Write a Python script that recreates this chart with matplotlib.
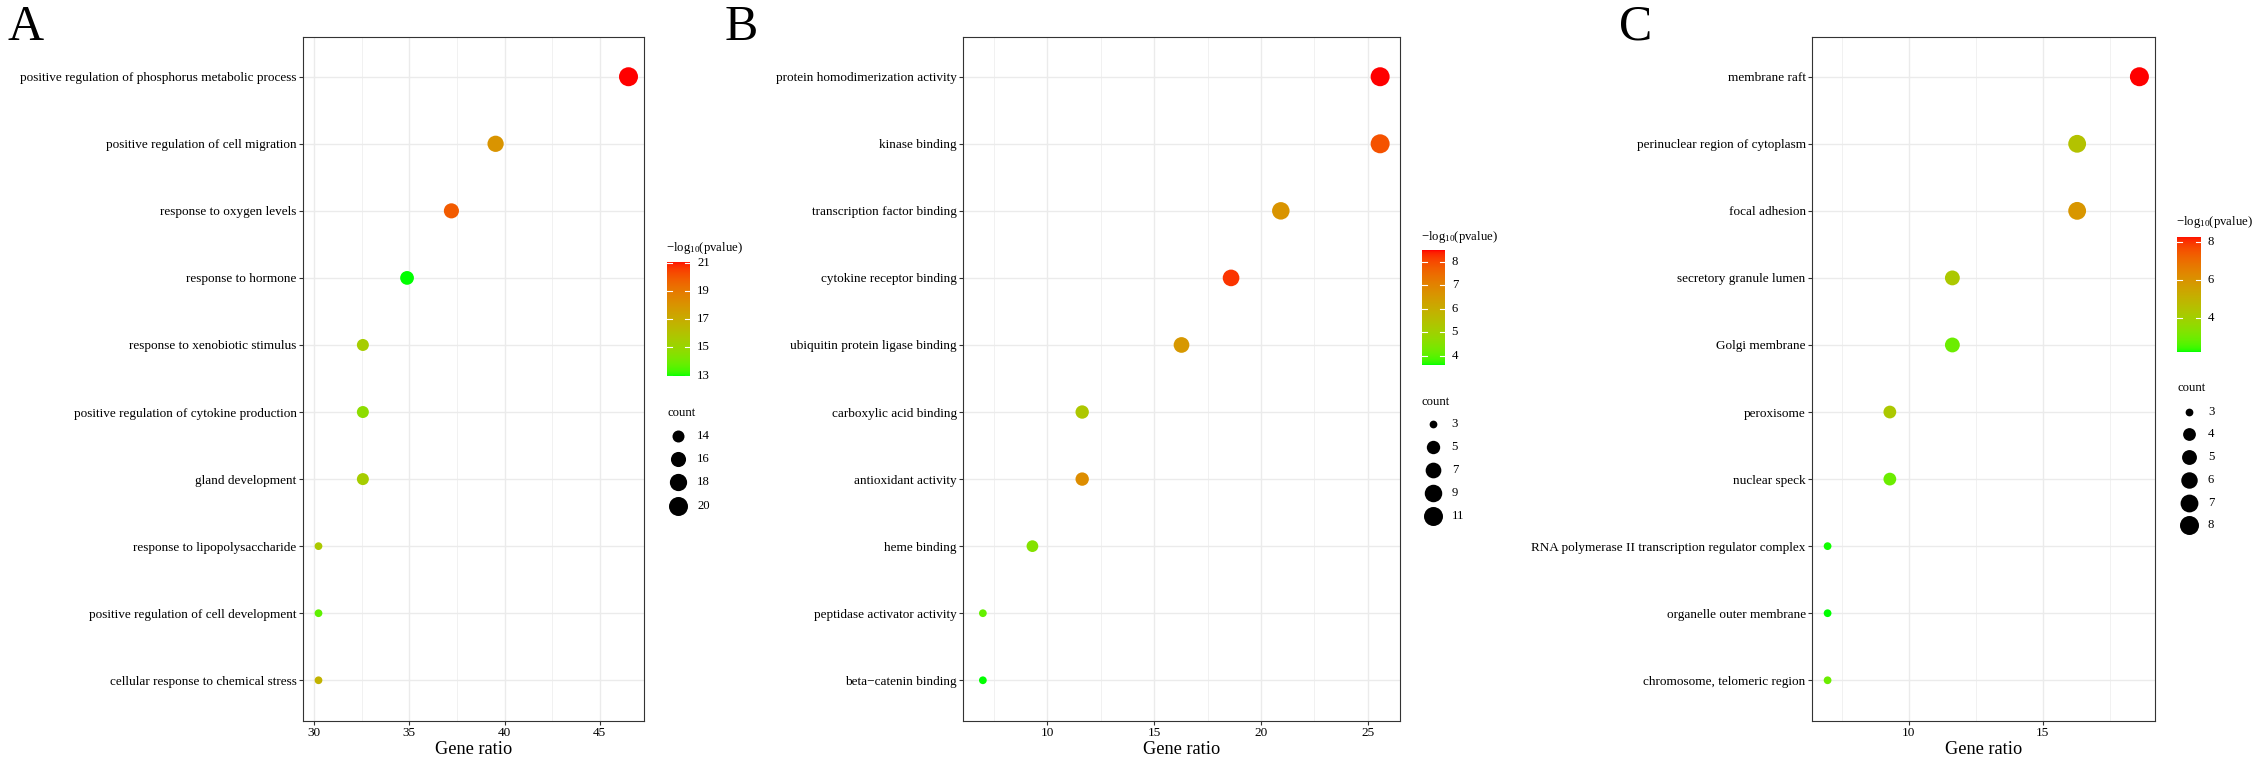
import numpy as np
import matplotlib
matplotlib.use('Agg')
import matplotlib.pyplot as plt
from matplotlib.colors import ListedColormap

plt.rcParams['font.family'] = ['Liberation Serif', 'DejaVu Serif']
plt.rcParams['mathtext.fontset'] = 'custom'
plt.rcParams['mathtext.rm'] = 'Liberation Serif'
plt.rcParams['mathtext.it'] = 'Liberation Serif:italic'

# ---------------- data ----------------
a_terms = ["positive regulation of phosphorus metabolic process",
           "positive regulation of cell migration",
           "response to oxygen levels",
           "response to hormone",
           "response to xenobiotic stimulus",
           "positive regulation of cytokine production",
           "gland development",
           "response to lipopolysaccharide",
           "positive regulation of cell development",
           "cellular response to chemical stress"]
a_ratio = [46.51, 39.53, 37.21, 34.88, 32.56, 32.56, 32.56, 30.23, 30.23, 30.23]
a_count = [20, 17, 16, 15, 14, 14, 14, 13, 13, 13]
a_logp = [21.08, 18.0, 19.85, 12.98, 15.5, 14.7, 15.5, 15.7, 13.7, 16.7]
a_xticks = [30, 35, 40, 45]
a_cticks = [13, 15, 17, 19, 21]
a_sticks = [14, 16, 18, 20]

b_terms = ["protein homodimerization activity",
           "kinase binding",
           "transcription factor binding",
           "cytokine receptor binding",
           "ubiquitin protein ligase binding",
           "carboxylic acid binding",
           "antioxidant activity",
           "heme binding",
           "peptidase activator activity",
           "beta\u2212catenin binding"]
b_ratio = [25.58, 25.58, 20.93, 18.60, 16.28, 11.63, 11.63, 9.30, 6.98, 6.98]
b_count = [11, 11, 9, 8, 7, 5, 5, 4, 3, 3]
b_logp = [8.5, 7.9, 6.65, 8.25, 6.55, 5.3, 6.8, 4.5, 4.1, 3.62]
b_xticks = [10, 15, 20, 25]
b_cticks = [4, 5, 6, 7, 8]
b_sticks = [3, 5, 7, 9, 11]

c_terms = ["membrane raft",
           "perinuclear region of cytoplasm",
           "focal adhesion",
           "secretory granule lumen",
           "Golgi membrane",
           "peroxisome",
           "nuclear speck",
           "RNA polymerase II transcription regulator complex",
           "organelle outer membrane",
           "chromosome, telomeric region"]
c_ratio = [18.60, 16.28, 16.28, 11.63, 11.63, 9.30, 9.30, 6.98, 6.98, 6.98]
c_count = [8, 7, 7, 5, 5, 4, 4, 3, 3, 3]
c_logp = [8.27, 4.5, 5.9, 4.3, 2.95, 4.3, 2.95, 2.3, 2.26, 2.95]
c_xticks = [10, 15]
c_cticks = [4, 6, 8]
c_sticks = [3, 4, 5, 6, 7, 8]

# ---------------- colour gradient (Lab interpolation green -> red) ----------------
M = np.array([[0.4124564, 0.3575761, 0.1804375],
              [0.2126729, 0.7151522, 0.0721750],
              [0.0193339, 0.1191920, 0.9503041]])
WHITE = M @ np.ones(3)

def _f(t):
    d = 6 / 29
    return np.where(t > d ** 3, np.cbrt(t), t / (3 * d * d) + 4 / 29)

def _finv(t):
    d = 6 / 29
    return np.where(t > d, t ** 3, 3 * d * d * (t - 4 / 29))

def rgb2lab(rgb):
    rgb = np.asarray(rgb, float)
    lin = np.where(rgb <= 0.04045, rgb / 12.92, ((rgb + 0.055) / 1.055) ** 2.4)
    xyz = (M @ lin) / WHITE
    fx, fy, fz = _f(xyz)
    return np.array([116 * fy - 16, 500 * (fx - fy), 200 * (fy - fz)])

def lab2rgb(lab):
    L, a, b = lab
    fy = (L + 16) / 116
    fx = fy + a / 500
    fz = fy - b / 200
    xyz = np.array([_finv(fx), _finv(fy), _finv(fz)]) * WHITE
    lin = np.linalg.solve(M, xyz)
    lin = np.clip(lin, 0, 1)
    rgb = np.where(lin <= 0.0031308, 12.92 * lin, 1.055 * lin ** (1 / 2.4) - 0.055)
    return np.clip(rgb, 0, 1)

lo, hi = rgb2lab([0, 1, 0]), rgb2lab([1, 0, 0])
cmap = ListedColormap([lab2rgb(lo + (hi - lo) * t) for t in np.linspace(0, 1, 256)])

W, H = 2261, 761
fig = plt.figure(figsize=(W / 100, H / 100), dpi=100)

def rect(x0, y0, x1, y1):
    return [x0 / W, 1 - y1 / H, (x1 - x0) / W, (y1 - y0) / H]

def diam(c, cmin, cmax):
    size = 1 + 5 * np.sqrt((np.asarray(c, float) - cmin) / (cmax - cmin))
    return 5.5 + 2.25 * size

def s_of(d):
    return (d * 0.72) ** 2

TOP, BOT = 36.5, 720.5
TICK_FS = 9.5
LEG_FS = 9.2
overlay = fig.add_axes([0, 0, 1, 1], zorder=10)
overlay.set_xlim(0, W)
overlay.set_ylim(H, 0)
overlay.axis('off')
overlay.patch.set_alpha(0)

def panel(x0, x1, terms, ratio, count, logp, xticks, cticks, sticks, leg):
    ax = fig.add_axes(rect(x0, TOP, x1, BOT))
    n = len(terms)
    y = np.arange(n, 0, -1)
    vmin, vmax = min(logp), max(logp)
    cols = cmap((np.array(logp) - vmin) / (vmax - vmin))
    cmin, cmax = min(count), max(count)
    ax.scatter(ratio, y, s=s_of(diam(count, cmin, cmax)), c=cols,
               linewidths=0, zorder=3)
    rmin, rmax = min(ratio), max(ratio)
    pad = 0.05 * (rmax - rmin)
    ax.set_xticks(xticks)
    ax.set_xticklabels([str(v) for v in xticks])
    minors = [v + 2.5 for v in [xticks[0] - 5] + xticks]
    ax.set_xticks(minors, minor=True)
    ax.set_yticks(y)
    ax.set_yticklabels(terms)
    ax.set_xlim(rmin - pad, rmax + pad)
    ax.set_ylim(0.4, n + 0.6)
    ax.grid(which='major', color='#EBEBEB', lw=1.0)
    ax.grid(which='minor', axis='x', color='#EBEBEB', lw=0.5)
    ax.set_axisbelow(True)
    ax.tick_params(which='major', length=2.75, width=0.8, color='#333333',
                   labelsize=TICK_FS, labelcolor='black', pad=1.8)
    ax.tick_params(which='minor', length=0)
    for sp in ax.spines.values():
        sp.set_color('#333333')
        sp.set_linewidth(0.8)
    ax.set_xlabel('Gene ratio', fontsize=13.2, labelpad=1.5)

    # colour bar legend
    bx0, bx1, by0, by1, ty, sty, sy0, sdy, dx, lx = leg
    overlay.text(bx0 - 1, ty, r'$\mathregular{-log_{10}(pvalue)}$', fontsize=LEG_FS,
                 ha='left', va='center')
    cax = fig.add_axes(rect(bx0, by0, bx1, by1), zorder=5)
    cax.imshow(np.linspace(0, 1, 256)[:, None], aspect='auto', cmap=cmap,
               origin='lower', extent=[0, 1, vmin, vmax])
    cax.set_xlim(0, 1)
    cax.set_ylim(vmin, vmax)
    cax.axis('off')
    for v in cticks:
        cax.plot([0, 0.2], [v, v], color='white', lw=0.8)
        cax.plot([0.8, 1], [v, v], color='white', lw=0.8)
        yy = by1 - (v - vmin) / (vmax - vmin) * (by1 - by0)
        overlay.text(lx, yy, str(v), fontsize=LEG_FS, ha='left', va='center')
    # size legend
    overlay.text(bx0, sty, 'count', fontsize=LEG_FS, ha='left', va='center')
    for i, v in enumerate(sticks):
        yy = sy0 + i * sdy
        overlay.scatter([dx], [yy], s=s_of(diam(v, cmin, cmax)), c='black',
                        linewidths=0)
        overlay.text(lx, yy, str(v), fontsize=LEG_FS, ha='left', va='center')
    return ax

panel(303, 644, a_terms, a_ratio, a_count, a_logp, a_xticks, a_cticks, a_sticks,
      (667, 690, 261.7, 376, 247.5, 412.5, 436, 23.2, 678, 697))
panel(963, 1400, b_terms, b_ratio, b_count, b_logp, b_xticks, b_cticks, b_sticks,
      (1422, 1445, 250, 365, 236.7, 401.7, 424.3, 22.9, 1433.3, 1451.7))
panel(1812, 2155, c_terms, c_ratio, c_count, c_logp, c_xticks, c_cticks, c_sticks,
      (2177, 2200.7, 236.5, 351.7, 222.5, 388.3, 411.7, 22.7, 2189, 2208))

for lab, x in [('A', 7), ('B', 725), ('C', 1619)]:
    overlay.text(x, 40, lab, fontsize=36, ha='left', va='baseline')

fig.savefig('out.png', dpi=100)
